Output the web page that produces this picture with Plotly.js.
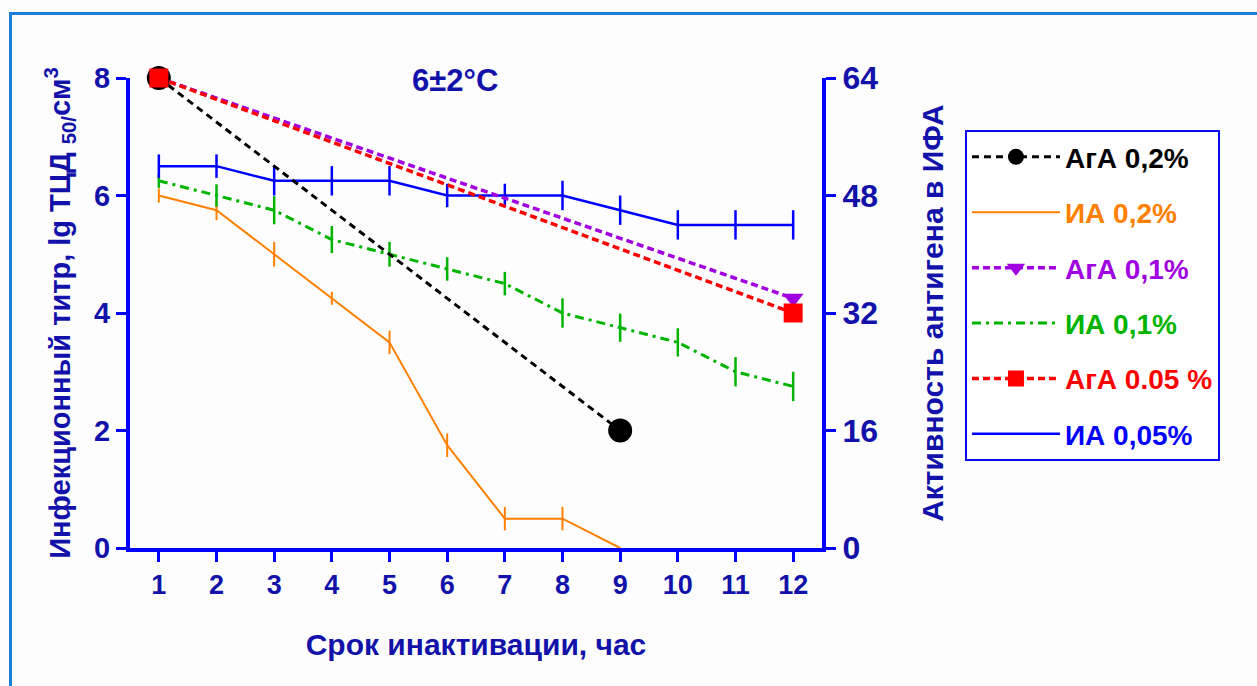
<!DOCTYPE html>
<html>
<head>
<meta charset="utf-8">
<script src="https://cdn.plot.ly/plotly-3.0.1.min.js"></script>
<style>
  html, body { margin:0; padding:0; background:#fdfdfd; }
  #chart { width:1257px; height:686px; }
  #frame { position:absolute; left:9px; top:12px; width:1260px; height:700px;
           border-left:3px solid #1b7fd6; border-top:3px solid #1b7fd6; pointer-events:none; }
</style>
</head>
<body>
<div id="chart"></div>
<div id="frame"></div>
<script>
// ---- data ----
const hours = [1,2,3,4,5,6,7,8,9,10,11,12];

// Antigen activity (right axis, ИФА)
const aga02_x = [1, 9];
const aga02_y = [64, 16];
const aga01_x = [1, 12];
const aga01_y = [64, 34];
const aga005_x = [1, 12];
const aga005_y = [64, 32];

// Infectious titre (left axis)
const ia02_x = [1,2,3,4,5,6,7,8,9];
const ia02_y = [6.0, 5.75, 5.0, 4.25, 3.5, 1.75, 0.5, 0.5, 0];
const ia02_err = [0.12, 0.17, 0.21, 0.11, 0.2, 0.2, 0.2, 0.2, 0];

const ia01_y = [6.25, 6.0, 5.75, 5.25, 5.0, 4.75, 4.5, 4.0, 3.75, 3.5, 3.0, 2.75];
const ia01_err = [0.12, 0.19, 0.24, 0.23, 0.21, 0.2, 0.2, 0.25, 0.24, 0.24, 0.25, 0.25];

const ia005_y = [6.5, 6.5, 6.25, 6.25, 6.25, 6.0, 6.0, 6.0, 5.75, 5.5, 5.5, 5.5];
const ia005_err = [0.2, 0.2, 0.25, 0.25, 0.25, 0.2, 0.2, 0.25, 0.25, 0.25, 0.25, 0.25];

const names = ['АгА 0,2%', 'ИА 0,2%', 'АгА 0,1%', 'ИА 0,1%', 'АгА 0.05 %', 'ИА 0,05%'];
const colors = ['#000000', '#ff8000', '#a000e0', '#00b400', '#ff0000', '#0000ff'];

const leftTicks = [0, 2, 4, 6, 8];
const rightTicks = [0, 16, 32, 48, 64];

// ---- styling ----
const FONT = 'Liberation Sans, Arial, sans-serif';
const TXT = '#1212aa';
const AX = '#0000ff';

function nm(i) { return '<span style="color:' + colors[i] + '">' + names[i] + '</span>'; }

const traces = [
  { x: aga02_x, y: aga02_y, yaxis: 'y2', name: nm(0), legendgroup: 'g0', mode: 'lines+markers',
    line: { color: colors[0], width: 3, dash: '7px,5px' },
    marker: { symbol: 'circle', size: 24, color: colors[0] }, cliponaxis: false },
  { x: ia02_x, y: ia02_y, name: nm(1), legendgroup: 'g1', mode: 'lines',
    line: { color: colors[1], width: 2 },
    error_y: { type: 'data', array: ia02_err, visible: true, color: colors[1], thickness: 2, width: 0 },
    cliponaxis: false },
  { x: aga01_x, y: aga01_y, yaxis: 'y2', name: nm(2), legendgroup: 'g2', mode: 'lines+markers',
    line: { color: colors[2], width: 3.5, dash: '7px,4px' },
    marker: { symbol: 'triangle-down', size: 18, color: colors[2] }, cliponaxis: false },
  { x: hours, y: ia01_y, name: nm(3), legendgroup: 'g3', mode: 'lines',
    line: { color: colors[3], width: 3, dash: '9px,5px,3px,5px' },
    error_y: { type: 'data', array: ia01_err, visible: true, color: colors[3], thickness: 2.5, width: 0 },
    cliponaxis: false },
  { x: aga005_x, y: aga005_y, yaxis: 'y2', name: nm(4), legendgroup: 'g4', mode: 'lines+markers',
    line: { color: colors[4], width: 3.5, dash: '7px,4px' },
    marker: { symbol: 'square', size: 19, color: colors[4] }, cliponaxis: false },
  { x: hours, y: ia005_y, name: nm(5), legendgroup: 'g5', mode: 'lines',
    line: { color: colors[5], width: 2.5 },
    error_y: { type: 'data', array: ia005_err, visible: true, color: colors[5], thickness: 2.5, width: 0 },
    cliponaxis: false }
];

const layout = {
  width: 1257, height: 686,
  paper_bgcolor: 'rgba(0,0,0,0)', plot_bgcolor: 'rgba(0,0,0,0)',
  margin: { l: 130, r: 435, t: 78, b: 138, pad: 0 },
  font: { family: FONT, color: TXT, weight: 'bold' },
  showlegend: true,
  legend: {
    x: 1.2066, xanchor: 'left', y: 0.889, yanchor: 'top',
    bordercolor: '#0a0aee', borderwidth: 2, bgcolor: '#ffffff',
    font: { family: FONT, size: 28, weight: 'bold' },
    traceorder: 'grouped', tracegroupgap: 16, itemwidth: 88
  },
  xaxis: {
    range: [0.5, 12.5], tickvals: hours, ticktext: hours.map(String),
    showline: true, linecolor: AX, linewidth: 4, mirror: false,
    ticks: 'outside', ticklen: 10, tickwidth: 3, tickcolor: AX,
    showgrid: false, zeroline: false,
    tickfont: { family: FONT, size: 27, color: TXT, weight: 'bold' },
    title: { text: 'Срок инактивации, час', font: { family: FONT, size: 30, color: TXT, weight: 'bold' }, standoff: 36 },
    automargin: false
  },
  yaxis: {
    range: [0, 8], tickvals: leftTicks, ticktext: leftTicks.map(String),
    showline: true, linecolor: AX, linewidth: 4,
    ticks: 'outside', ticklen: 10, tickwidth: 3, tickcolor: AX,
    showgrid: false, zeroline: false,
    tickfont: { family: FONT, size: 29, color: TXT, weight: 'bold' },
    title: { text: 'Инфекционный титр, lg ТЦД <sub>50/</sub>см<sup>3</sup>', font: { family: FONT, size: 29, color: TXT, weight: 'bold' }, standoff: 16 },
    automargin: false
  },
  yaxis2: {
    range: [0, 64], tickvals: rightTicks, ticktext: rightTicks.map(String),
    overlaying: 'y', side: 'right',
    showline: true, linecolor: AX, linewidth: 4,
    ticks: 'outside', ticklen: 10, tickwidth: 3, tickcolor: AX,
    showgrid: false, zeroline: false,
    tickfont: { family: FONT, size: 32, color: TXT, weight: 'bold' },
    title: { text: 'Активность антигена в ИФА', font: { family: FONT, size: 30, color: TXT, weight: 'bold' }, standoff: 46 },
    automargin: false
  },
  annotations: [
    { text: '6±2°C', xref: 'paper', yref: 'paper', x: 0.47, y: 0.995, xanchor: 'center', yanchor: 'middle',
      showarrow: false, font: { family: FONT, size: 31, color: TXT, weight: 'bold' } }
  ]
};

Plotly.newPlot('chart', traces, layout, { displayModeBar: false, staticPlot: true });
</script>
</body>
</html>
